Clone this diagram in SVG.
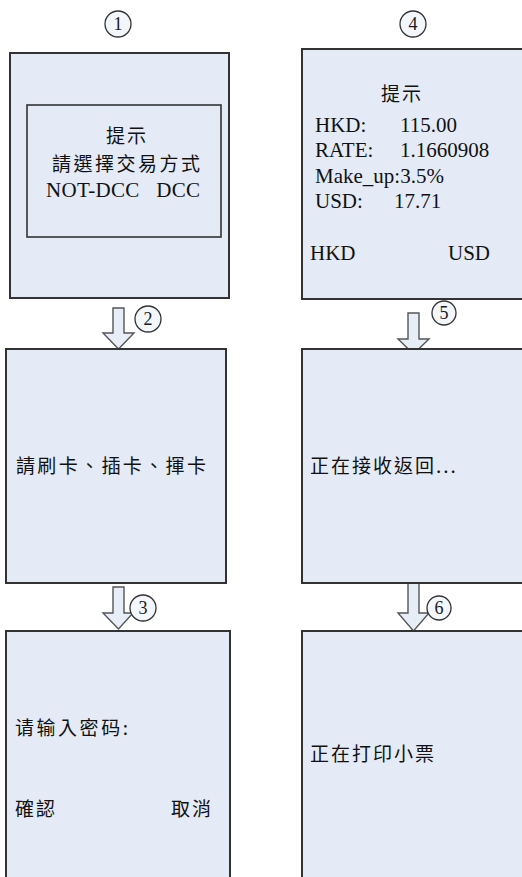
<svg xmlns="http://www.w3.org/2000/svg" width="522" height="877" viewBox="0 0 522 877">
<style>
.box{fill:#e4ebf6;stroke:#333;stroke-width:2}
.inner{fill:#e4ebf6;stroke:#333;stroke-width:1.6}
.arrow{fill:#e8eef8;stroke:#555;stroke-width:1.4;stroke-linejoin:miter}
.circ{fill:#f3f6fb;stroke:#333;stroke-width:1.3}
.num{font-family:"Liberation Serif",serif;font-size:18px;fill:#1a1a1a;text-anchor:middle}
.cjk{font-family:"Noto Sans CJK TC","Noto Sans CJK SC",sans-serif;font-size:19px;fill:#111;letter-spacing:2px}
.ser{font-family:"Liberation Serif","Noto Sans CJK TC",serif;font-size:21px;fill:#111}
</style>
<rect width="522" height="877" fill="#ffffff"/>
<g id="connectors">
<path class="arrow" d="M113,308 H124 V333 H134 L118.5,349 L103,333 H113 Z"/>
<path class="arrow" d="M113,587 H124 V613 H133 L118.5,629 L103,613 H113 Z"/>
<path class="arrow" d="M408,313 H419 V339 H429 L413.5,354 L398,339 H408 Z"/>
<path class="arrow" d="M408,583 H419 V613 H429 L413.5,631 L398,613 H408 Z"/>
</g>
<g id="label1"><circle class="circ" cx="118" cy="24" r="13"/><text class="num" x="118" y="30">1</text></g>
<g id="label4"><circle class="circ" cx="413" cy="24" r="13"/><text class="num" x="413" y="30">4</text></g>
<g id="label2"><circle class="circ" cx="148" cy="319" r="13"/><text class="num" x="148" y="325">2</text></g>
<g id="label3"><circle class="circ" cx="143" cy="608" r="13"/><text class="num" x="143" y="614">3</text></g>
<g id="label5"><circle class="circ" cx="444" cy="313" r="12"/><text class="num" x="444" y="319">5</text></g>
<g id="label6"><circle class="circ" cx="439" cy="608" r="12"/><text class="num" x="439" y="614">6</text></g>
<g id="screen1">
<rect class="box" x="10" y="53" width="219" height="245"/>
<rect class="inner" x="27" y="105" width="194" height="132"/>
<text class="cjk" x="127" y="143" text-anchor="middle" letter-spacing="0">提示</text>
<text class="cjk" x="52" y="171" textLength="150" lengthAdjust="spacing" letter-spacing="0">請選擇交易方式</text>
<text class="ser" x="46" y="197" xml:space="preserve" textLength="154" lengthAdjust="spacing">NOT-DCC   DCC</text>
</g>
<g id="screen2">
<rect class="box" x="6" y="349" width="220" height="234"/>
<text class="cjk" x="16" y="473" textLength="192" lengthAdjust="spacing" letter-spacing="0">請刷卡、插卡、揮卡</text>
</g>
<g id="screen3">
<rect class="box" x="6" y="631" width="224" height="260"/>
<text class="cjk" x="15" y="735" textLength="115" lengthAdjust="spacing" letter-spacing="0">请输入密码:</text>
<text class="cjk" x="15" y="816">確認</text>
<text class="cjk" x="171" y="816">取消</text>
</g>
<g id="screen4">
<rect class="box" x="302" y="49" width="230" height="250"/>
<text class="cjk" x="402" y="101" text-anchor="middle" letter-spacing="0">提示</text>
<text class="ser" x="315" y="132">HKD:</text><text class="ser" x="400" y="132">115.00</text>
<text class="ser" x="315" y="157">RATE:</text><text class="ser" x="400" y="157">1.1660908</text>
<text class="ser" x="315" y="183">Make_up:3.5%</text>
<text class="ser" x="315" y="208">USD:</text><text class="ser" x="394" y="208">17.71</text>
<text class="ser" x="310" y="260">HKD</text>
<text class="ser" x="448" y="260">USD</text>
</g>
<g id="screen5">
<rect class="box" x="302" y="349" width="230" height="234"/>
<text class="cjk" x="310" y="473" letter-spacing="0.5">正在接收返回...</text>
</g>
<g id="screen6">
<rect class="box" x="302" y="631" width="230" height="260"/>
<text class="cjk" x="310" y="761">正在打印小票</text>
</g>
</svg>
